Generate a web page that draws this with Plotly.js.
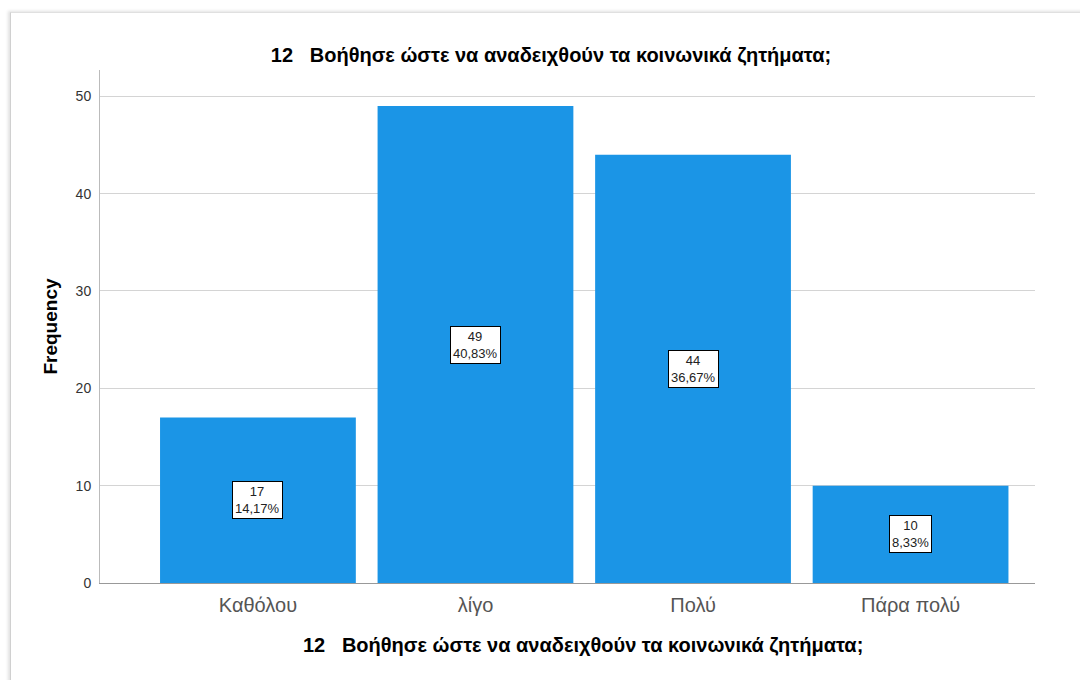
<!DOCTYPE html>
<html>
<head>
<meta charset="utf-8">
<script src="https://cdn.plot.ly/plotly-3.0.1.min.js"></script>
<style>
  html, body { margin:0; padding:0; background:#fff; }
  #frame { position:absolute; left:10px; top:12px; width:1090px; height:700px;
           border-left:1px solid #d0d0d0; border-top:1px solid #e0e0e0;
           box-shadow:-2px -1px 3px rgba(0,0,0,0.12); }
  #chart { position:absolute; left:0; top:0; width:1080px; height:680px; }
</style>
</head>
<body>
<div id="frame"></div>
<div id="chart"></div>
<script>
const categories = ["Καθόλου", "λίγο", "Πολύ", "Πάρα πολύ"];
const counts = [17, 49, 44, 10];
const percentLabels = ["14,17%", "40,83%", "36,67%", "8,33%"];
const titleText = "12   Βοήθησε ώστε να αναδειχθούν τα κοινωνικά ζητήματα;";

const FONT = "Liberation Sans, Arial, sans-serif";

const trace = {
  type: "bar",
  x: categories,
  y: counts,
  marker: { color: "#1b95e6", line: { width: 0 } },
  width: 0.9,
  hoverinfo: "skip"
};

const annotations = categories.map((c, i) => ({
  x: c, y: counts[i] / 2, xref: "x", yref: "y",
  text: counts[i] + "<br>" + percentLabels[i],
  showarrow: false,
  font: { family: FONT, size: 13, color: "#222" },
  bgcolor: "#ffffff", bordercolor: "#000000", borderwidth: 1, borderpad: 2
}));

annotations.push({
  text: "<b>" + titleText + "</b>",
  xref: "paper", yref: "paper", x: (583 - 100) / 935, y: 1 - (645 - 70) / 513,
  xanchor: "center", yanchor: "middle", showarrow: false,
  font: { family: FONT, size: 20, color: "#000" }
});

const layout = {
  width: 1080, height: 680,
  margin: { l: 100, r: 45, t: 70, b: 97 },
  paper_bgcolor: "rgba(0,0,0,0)",
  plot_bgcolor: "rgba(0,0,0,0)",
  showlegend: false,
  title: {
    text: "<b>" + titleText + "</b>",
    xref: "paper", x: (551 - 100) / 935, xanchor: "center",
    yref: "container", y: 1 - 55 / 680, yanchor: "middle",
    font: { family: FONT, size: 20, color: "#000" }
  },
  xaxis: {
    type: "category",
    range: [-0.726, 3.572],
    showgrid: false,
    showline: true, linecolor: "#999", linewidth: 1,
    ticks: "", ticklabelstandoff: 4,
    tickfont: { family: FONT, size: 20, color: "#555" },
    fixedrange: true
  },
  yaxis: {
    range: [0, 52.7],
    tickvals: [0, 10, 20, 30, 40, 50],
    showgrid: true, gridcolor: "#d4d4d4", gridwidth: 1,
    showline: true, linecolor: "#bbb", linewidth: 1,
    zeroline: false,
    ticks: "", ticklabelstandoff: 5,
    tickfont: { family: FONT, size: 14, color: "#333" },
    title: { text: "<b>Frequency</b>", font: { family: FONT, size: 19, color: "#000" }, standoff: 12 },
    fixedrange: true
  },
  annotations: annotations
};

Plotly.newPlot("chart", [trace], layout, { staticPlot: true, displayModeBar: false });
</script>
</body>
</html>
